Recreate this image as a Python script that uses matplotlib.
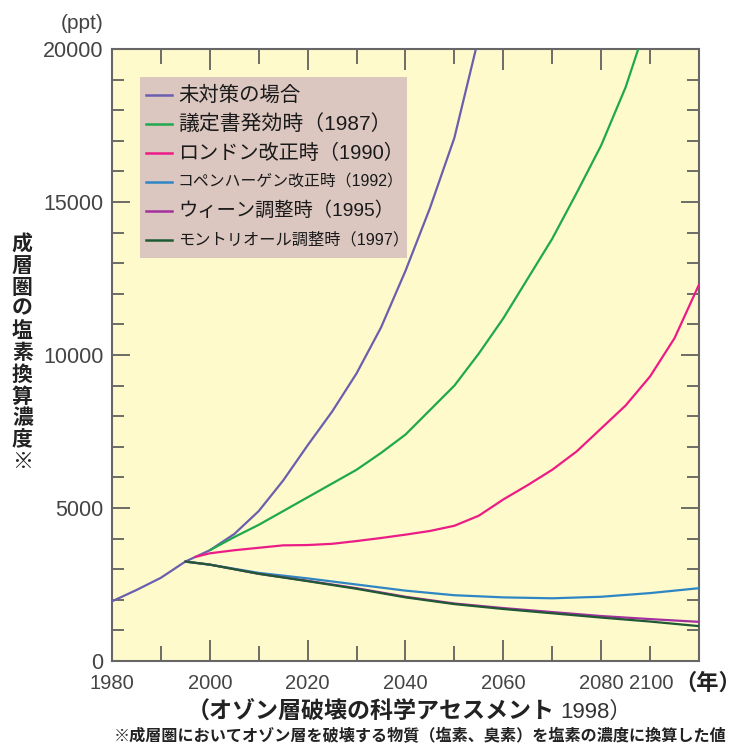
import matplotlib
matplotlib.use('agg')
import matplotlib.pyplot as plt
from matplotlib.patches import Rectangle
from matplotlib.transforms import ScaledTranslation
from matplotlib.ticker import MultipleLocator

plt.rcParams['font.family'] = ['Liberation Sans', 'Noto Sans CJK JP', 'DejaVu Sans']

# data (ppt)
trunk_years = [1980, 1985, 1990, 1995]
trunk_vals = [1950, 2320, 2720, 3250]

none_years = [1995, 2000, 2005, 2010, 2015, 2020, 2025, 2030, 2035, 2040, 2045, 2050, 2055]
none_vals = [3250, 3620, 4150, 4900, 5900, 7050, 8150, 9400, 10900, 12750, 14800, 17100, 20400]

p1987_years = [2000, 2005, 2010, 2015, 2020, 2025, 2030, 2035, 2040, 2045, 2050, 2055,
               2060, 2065, 2070, 2075, 2080, 2085, 2088]
p1987_vals = [3620, 4050, 4450, 4900, 5350, 5800, 6250, 6800, 7400, 8200, 9000, 10050,
              11200, 12500, 13800, 15300, 16850, 18750, 20200]

p1990_years = [1997, 2000, 2005, 2010, 2015, 2020, 2025, 2030, 2035, 2040, 2045, 2050,
               2055, 2060, 2065, 2070, 2075, 2080, 2085, 2090, 2095, 2100]
p1990_vals = [3400, 3520, 3620, 3700, 3780, 3790, 3830, 3920, 4020, 4130, 4250, 4420,
              4750, 5280, 5750, 6250, 6850, 7600, 8350, 9300, 10550, 12300]

p1992_years = [1995, 2000, 2010, 2020, 2030, 2040, 2050, 2060, 2070, 2080, 2090, 2100]
p1992_vals = [3250, 3150, 2880, 2700, 2500, 2300, 2150, 2080, 2050, 2100, 2220, 2380]

p1995_years = [1995, 2000, 2010, 2020, 2030, 2040, 2050, 2060, 2070, 2080, 2090, 2100]
p1995_vals = [3250, 3150, 2850, 2620, 2380, 2100, 1880, 1730, 1600, 1470, 1370, 1280]

p1997_years = [1995, 2000, 2010, 2020, 2030, 2040, 2050, 2060, 2070, 2080, 2090, 2100]
p1997_vals = [3250, 3150, 2850, 2610, 2360, 2080, 1860, 1700, 1560, 1420, 1290, 1140]

labels = ['未対策の場合', '議定書発効時（1987）', 'ロンドン改正時（1990）',
          'コペンハーゲン改正時（1992）', 'ウィーン調整時（1995）', 'モントリオール調整時（1997）']
label_sizes = [14.7, 15.0, 14.5, 11.4, 13.9, 11.7]
colors = ['#6a5fae', '#1fa84f', '#ec1c86', '#2f86c4', '#a3309e', '#1f5a34']

fig = plt.figure(figsize=(7.44, 7.47), dpi=100)
ax = fig.add_axes([0.1505, 0.1151, 0.789, 0.8193])
ax.set_facecolor('#fffacb')

ax.plot(trunk_years, trunk_vals, color=colors[0], lw=1.6, zorder=3)
series = [(none_years, none_vals), (p1987_years, p1987_vals), (p1990_years, p1990_vals),
          (p1992_years, p1992_vals), (p1995_years, p1995_vals), (p1997_years, p1997_vals)]
for (xs, ys), col in zip(series, colors):
    ax.plot(xs, ys, color=col, lw=1.6, solid_capstyle='round', zorder=3)

ax.set_xlim(1980, 2100)
ax.set_ylim(0, 20000)
ax.xaxis.set_major_locator(MultipleLocator(20))
ax.xaxis.set_minor_locator(MultipleLocator(10))
ax.yaxis.set_major_locator(MultipleLocator(5000))
ax.yaxis.set_minor_locator(MultipleLocator(1000))
ax.tick_params(axis='both', which='both', direction='in', top=True, right=True,
               color='#555555', width=1.2, labelcolor='#444444', labelsize=15.5)
ax.tick_params(axis='x', which='major', length=15, pad=9, labelsize=14.5)
ax.tick_params(axis='x', which='minor', length=11)
ax.tick_params(axis='y', which='major', length=13, pad=6)
ax.tick_params(axis='y', which='minor', length=8.5)
for s in ax.spines.values():
    s.set_color('#666666')
    s.set_linewidth(1.5)

# the 2100 label sits left of its tick, next to the unit
locs = list(ax.xaxis.get_majorticklocs())
ticks = ax.xaxis.get_major_ticks(len(locs))
lab2100 = ticks[locs.index(2100)].label1
lab2100.set_transform(lab2100.get_transform() + ScaledTranslation(-0.48, 0, fig.dpi_scale_trans))

# legend box drawn by hand (entries have different widths in the original)
ax.add_patch(Rectangle((0.0477, 0.6585), 0.455, 0.2955, transform=ax.transAxes,
                       facecolor='#dcc7c0', edgecolor='none', zorder=4))
for i, (lab, col, fs) in enumerate(zip(labels, colors, label_sizes)):
    y = 0.925 - 0.0474 * i
    ax.plot([0.058, 0.102], [y, y], color=col, lw=1.8, transform=ax.transAxes, zorder=5)
    ax.text(0.1124, y, lab, fontsize=fs, color='#1a1a1a', ha='left', va='center',
            transform=ax.transAxes, zorder=5)

fig.text(0.1385, 0.968, '(ppt)', ha='right', va='center', fontsize=15, color='#444444')
fig.text(0.906, 0.084, '（年）', ha='left', va='center', fontsize=16, fontweight='bold',
         color='#222222')
ylab = '\n'.join('成層圏の塩素換算濃度※')
fig.text(0.03, 0.527, ylab, ha='center', va='center', fontsize=15, fontweight='bold',
         linespacing=1.15, color='#222222')
fig.text(0.746, 0.046, '（オゾン層破壊の科学アセスメント', ha='right', va='center',
         fontsize=16.6, fontweight='bold', color='#222222')
fig.text(0.753, 0.046, '1998）', ha='left', va='center', fontsize=16, color='#333333')
fig.text(0.153, 0.0145, '※成層圏においてオゾン層を破壊する物質（塩素、臭素）を塩素の濃度に換算した値',
         ha='left', va='center', fontsize=11.6, fontweight='bold', color='#222222')

fig.savefig('out.png', dpi=100)
